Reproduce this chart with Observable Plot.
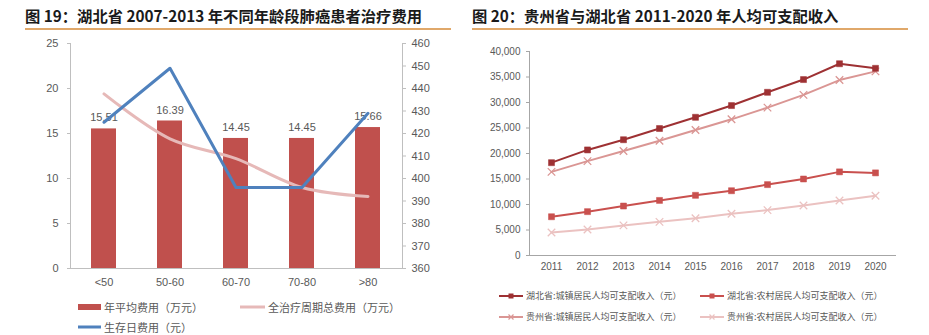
<!DOCTYPE html>
<html>
<head>
<meta charset="utf-8">
<script src="https://cdn.jsdelivr.net/npm/d3@7"></script>
<script src="https://cdn.jsdelivr.net/npm/@observablehq/plot@0.6"></script>
<style>
  html, body { margin: 0; padding: 0; background: #fff; }
  body { width: 929px; height: 335px; position: relative; overflow: hidden; font-family: "Noto Sans CJK SC", "Liberation Sans", sans-serif; }
  .title { position: absolute; font-weight: bold; font-size: 15.3px; line-height: 20px; color: #1a1a1a; white-space: nowrap; }
  .rule { position: absolute; height: 2px; background: #E0A86A; }
  .leg { position: absolute; display: flex; align-items: center; white-space: nowrap; color: #595959; height: 14px; line-height: 14px; }
  .leg svg { display: block; margin-right: 3px; }
</style>
</head>
<body>
<div class="title" style="left:25px;top:5px">图 19：湖北省 2007-2013 年不同年龄段肺癌患者治疗费用</div>
<div class="rule" style="left:25px;top:28px;width:426px"></div>
<div id="chart1" style="position:absolute;left:0;top:30px"></div>
<div id="legend1"></div>

<div class="title" style="left:472px;top:5px">图 20：贵州省与湖北省 2011-2020 年人均可支配收入</div>
<div class="rule" style="left:472px;top:28px;width:436px"></div>
<div id="chart2" style="position:absolute;left:470px;top:30px"></div>
<div id="legend2"></div>

<script>
// ---------- Data: Figure 19 ----------
const ageGroups = ["<50", "50-60", "60-70", "70-80", ">80"];
const annualCost = [15.51, 16.39, 14.45, 14.45, 15.66];   // 年平均费用（万元）
const totalCost = [19.4, 14.4, 12.2, 9.0, 8.0];           // 全治疗周期总费用（万元）
const dailyCost = [425, 449, 396, 396, 429];              // 生存日费用（元） right axis
const leftTicks = [0, 5, 10, 15, 20, 25];
const rightTicks = [360, 370, 380, 390, 400, 410, 420, 430, 440, 450, 460];
const seriesNames1 = ["年平均费用（万元）", "全治疗周期总费用（万元）", "生存日费用（元）"];

// ---------- Data: Figure 20 ----------
const years = ["2011", "2012", "2013", "2014", "2015", "2016", "2017", "2018", "2019", "2020"];
const hubeiUrban = [18200, 20700, 22700, 24900, 27100, 29400, 32000, 34500, 37600, 36700];
const hubeiRural = [7600, 8600, 9700, 10800, 11800, 12700, 13900, 15000, 16400, 16200];
const guizhouUrban = [16400, 18500, 20500, 22500, 24600, 26700, 29000, 31500, 34400, 36100];
const guizhouRural = [4500, 5100, 5900, 6600, 7300, 8200, 8900, 9800, 10800, 11700];
const incomeTicks = [0, 5000, 10000, 15000, 20000, 25000, 30000, 35000, 40000];
const seriesNames2 = [
  "湖北省:城镇居民人均可支配收入（元）",
  "湖北省:农村居民人均可支配收入（元）",
  "贵州省:城镇居民人均可支配收入（元）",
  "贵州省:农村居民人均可支配收入（元）"
];

// ---------- Figure 19 ----------
const C_BAR = "#C0504D", C_PINK = "#E6B9B8", C_BLUE = "#4F81BD", AXIS = "#BFBFBF";
const toLeft = v => (v - 360) / 4;
const d1 = ageGroups.map((a, i) => ({age: a, annual: annualCost[i], total: totalCost[i], daily: dailyCost[i]}));

const chart1 = Plot.plot({
  width: 460, height: 260,
  marginLeft: 70, marginRight: 58, marginTop: 13, marginBottom: 22,
  x: {domain: ageGroups, paddingInner: 0.62, paddingOuter: 0.31, label: null},
  y: {domain: [0, 25], label: null},
  style: {fontFamily: "'Liberation Sans', Arial, sans-serif", fontSize: "11px", color: "#595959", background: "transparent"},
  marks: [
    Plot.barY(d1, {x: "age", y: "annual", fill: C_BAR}),
    Plot.text(d1, {x: "age", y: "annual", text: d => d.annual.toFixed(2), dy: -11, fill: "#595959", fontSize: 11}),
    Plot.line(d1, {x: "age", y: "total", stroke: C_PINK, strokeWidth: 3, curve: "catmull-rom"}),
    Plot.line(d1, {x: "age", y: d => toLeft(d.daily), stroke: C_BLUE, strokeWidth: 3}),
    Plot.axisY(leftTicks, {anchor: "left", tickSize: 3, tickPadding: 9, stroke: AXIS, label: null}),
    Plot.axisY(rightTicks.map(toLeft), {anchor: "right", tickSize: 3, tickPadding: 6, stroke: AXIS, tickFormat: d => String(Math.round(d * 4 + 360)), label: null}),
    Plot.axisX({tickSize: 0, tickPadding: 10, label: null}),
    Plot.frame({anchor: "left", stroke: AXIS}),
    Plot.frame({anchor: "right", stroke: AXIS}),
    Plot.ruleY([0], {stroke: AXIS})
  ]
});
document.getElementById("chart1").appendChild(chart1);

function legendItem(left, top, swatchSvg, text, fontSize) {
  const div = document.createElement("div");
  div.className = "leg";
  div.style.left = left + "px";
  div.style.top = top + "px";
  div.style.fontSize = fontSize + "px";
  div.innerHTML = swatchSvg + "<span>" + text + "</span>";
  return div;
}
const L1 = document.getElementById("legend1");
L1.appendChild(legendItem(78, 300, `<svg width="23" height="8"><rect x="0" y="1" width="23" height="6" fill="${C_BAR}"/></svg>`, seriesNames1[0], 11));
L1.appendChild(legendItem(240, 300, `<svg width="25" height="8"><line x1="0" x2="25" y1="4" y2="4" stroke="${C_PINK}" stroke-width="3"/></svg>`, seriesNames1[1], 11));
L1.appendChild(legendItem(78, 320, `<svg width="23" height="8"><line x1="0" x2="23" y1="4" y2="4" stroke="${C_BLUE}" stroke-width="3"/></svg>`, seriesNames1[2], 11));

// ---------- Figure 20 ----------
const colors2 = ["#9E3133", "#C9504E", "#DA9694", "#EBC2C1"];
const symbols2 = ["square", "square", "times", "times"];
const series2 = [hubeiUrban, hubeiRural, guizhouUrban, guizhouRural];
const d2 = [];
series2.forEach((arr, s) => arr.forEach((v, i) => d2.push({year: years[i], value: v, s})));

const marks2 = [
  Plot.axisY(incomeTicks, {anchor: "left", tickSize: 3, tickPadding: 6, stroke: "#A6A6A6", tickFormat: d3.format(","), label: null}),
  Plot.axisX({tickSize: 0, tickPadding: 7, label: null}),
  Plot.frame({anchor: "left", stroke: "#A6A6A6"}),
  Plot.ruleY([0], {stroke: "#A6A6A6"})
];
[3, 2, 1, 0].forEach(s => {
  const dd = d2.filter(d => d.s === s);
  marks2.push(Plot.line(dd, {x: "year", y: "value", stroke: colors2[s], strokeWidth: 2}));
  if (symbols2[s] === "square") {
    marks2.push(Plot.dot(dd, {x: "year", y: "value", symbol: "square", r: 3.4, fill: colors2[s], stroke: colors2[s], strokeWidth: 0.5}));
  } else {
    marks2.push(Plot.dot(dd, {x: "year", y: "value", symbol: "times", r: 3.5, stroke: colors2[s], strokeWidth: 1.3}));
  }
});

const chart2 = Plot.plot({
  width: 459, height: 250,
  marginLeft: 59, marginRight: 33, marginTop: 21, marginBottom: 25,
  x: {type: "point", domain: years, padding: 0.5, label: null},
  y: {domain: [0, 40000], label: null},
  style: {fontFamily: "'Liberation Sans', Arial, sans-serif", fontSize: "10px", color: "#595959", background: "transparent"},
  marks: marks2
});
document.getElementById("chart2").appendChild(chart2);

function lineSwatch(color, symbol) {
  const m = symbol === "square"
    ? `<rect x="9.5" y="1.5" width="5" height="5" fill="${color}"/>`
    : `<path d="M9.5 1.5L14.5 6.5M14.5 1.5L9.5 6.5" stroke="${color}" stroke-width="1.2"/>`;
  return `<svg width="24" height="8"><line x1="0" x2="24" y1="4" y2="4" stroke="${color}" stroke-width="2"/>${m}</svg>`;
}
const L2 = document.getElementById("legend2");
L2.appendChild(legendItem(499, 289, lineSwatch(colors2[0], "square"), seriesNames2[0], 9));
L2.appendChild(legendItem(700, 289, lineSwatch(colors2[1], "square"), seriesNames2[1], 9));
L2.appendChild(legendItem(499, 310, lineSwatch(colors2[2], "times"), seriesNames2[2], 9));
L2.appendChild(legendItem(700, 310, lineSwatch(colors2[3], "times"), seriesNames2[3], 9));
</script>
</body>
</html>
